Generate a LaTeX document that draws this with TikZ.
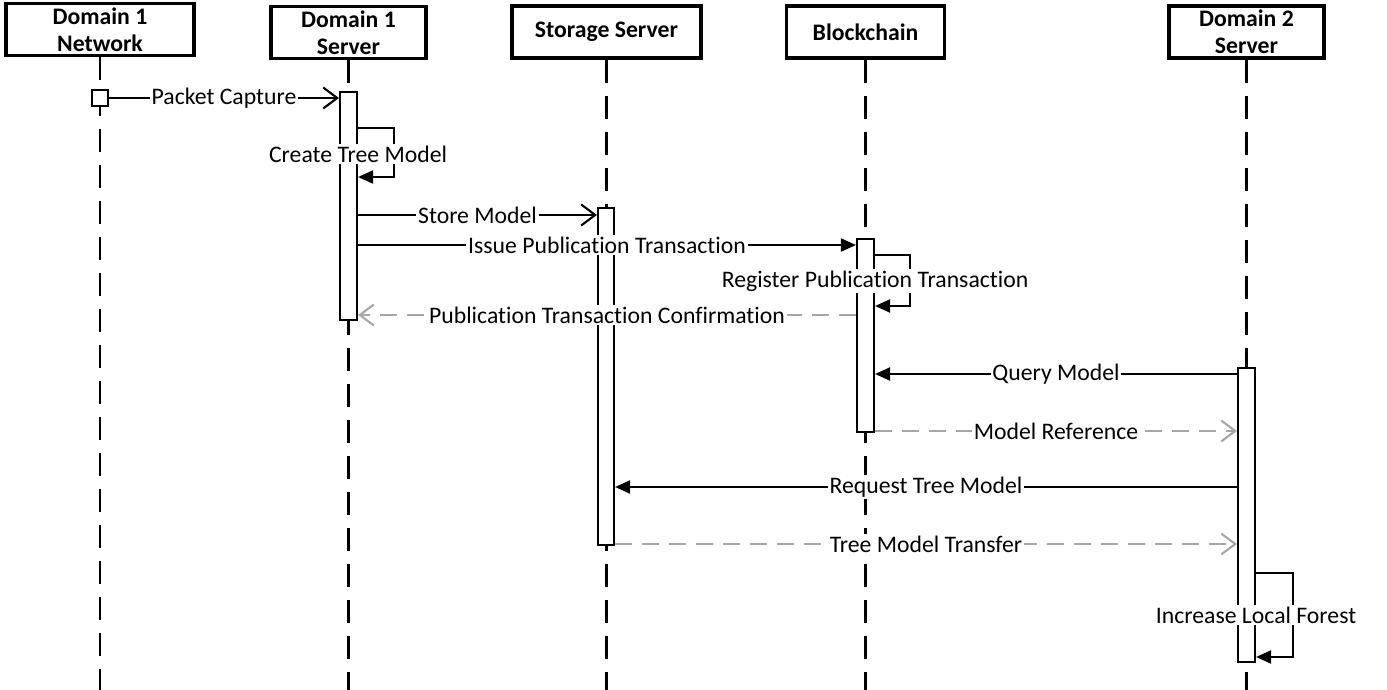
\documentclass[tikz,border=0pt]{standalone}
\usepackage{fontspec}
\setmainfont{Carlito}[Ligatures=NoCommon]
\usetikzlibrary{arrows.meta, fit}

\begin{document}
\begin{tikzpicture}[
    x=0.02cm, y=-0.02cm, % one unit per pixel, y running downwards
    headbox/.style={rectangle, draw, line width=1.9pt, align=center, inner sep=0pt, minimum height=1.04cm, font=\bfseries\fontsize{13.5}{15.5}\selectfont},
    lifeline/.style={line width=1.5pt, dash pattern=on 0.46cm off 0.26cm},
    actbar/.style={rectangle, draw, line width=1.2pt, fill=white, inner sep=0pt},
    msg/.style={line width=1.2pt, -{Triangle[length=0.3cm, width=0.26cm]}},
    openmsg/.style={line width=1.2pt, -{Straight Barb[length=0.28cm, width=0.42cm, line width=1.2pt]}},
    reply/.style={openmsg, gray!70, dash pattern=on 0.34cm off 0.2cm},
    lbl/.style={fill=white, text=black, inner sep=1pt, font=\fontsize{13.5}{16}\selectfont}
]
\useasboundingbox (0,0) rectangle (1387,690);
\coordinate (bottom) at (0,690);

% Participants
\node[headbox, minimum width=3.76cm] (net) at (100,29.5) {Domain 1\\Network};
\node[headbox, minimum width=3.1cm] (d1) at (348.5,32.5) {Domain 1\\Server};
\node[headbox, minimum width=3.78cm] (st) at (606.5,32) {Storage Server};
\node[headbox, minimum width=3.16cm] (bc) at (865.5,32) {Blockchain};
\node[headbox, minimum width=3.1cm] (d2) at (1246.5,32) {Domain 2\\Server};

% Lifelines
\foreach \p in {net, d1, st, bc, d2}
    \draw[lifeline] (\p.south) -- (\p.south |- bottom);

% Activation bars
\node[actbar, minimum size=0.32cm] (netsq) at (100,98) {};
\node[actbar, fit={(340,92) (357,320)}] (d1bar) {};
\node[actbar, fit={(598,208) (614,545)}] (stbar) {};
\node[actbar, fit={(857,239) (874,432)}] (bcbar) {};
\node[actbar, fit={(1238,368) (1255,662)}] (d2bar) {};

% Messages
\draw[openmsg] (netsq.east) -- node[lbl] (lcap) {Packet Capture} (netsq.east -| d1bar.west);

\draw[msg] (d1bar.east |- 0,128) -- ++(36,0) -- ++(0,49) -- (d1bar.east |- 0,177);
\node[lbl] (ltree) at (d1bar.east |- 0,154) {Create Tree Model};

\draw[openmsg] (d1bar.east |- 0,215) -- node[lbl] (lstore) {Store Model} (stbar.west |- 0,215);
\draw[msg] (d1bar.east |- 0,245) -- node[lbl] (lissue) {Issue Publication Transaction} (bcbar.west |- 0,245);

\draw[msg] (bcbar.east |- 0,255) -- ++(35,0) -- ++(0,51) -- (bcbar.east |- 0,306);
\node[lbl] (lreg) at (bcbar.east |- 0,281) {Register Publication Transaction};

\draw[reply] (bcbar.west |- 0,315) -- node[lbl] (lconf) {Publication Transaction Confirmation} (d1bar.east |- 0,315);

\draw[msg] (d2bar.west |- 0,374) -- node[lbl] (lquery) {Query Model} (bcbar.east |- 0,374);
\draw[reply] (bcbar.east |- 0,431) -- node[lbl] (lref) {Model Reference} (d2bar.west |- 0,431);
\draw[msg] (d2bar.west |- 0,487) -- node[lbl] (lreq) {Request Tree Model} (stbar.east |- 0,487);
\draw[reply] (stbar.east |- 0,544) -- node[lbl] (ltrans) {Tree Model Transfer} (d2bar.west |- 0,544);

\draw[msg] (d2bar.east |- 0,573) -- ++(37,0) -- ++(0,84) -- (d2bar.east |- 0,657);
\node[lbl] (lforest) at (d2bar.east |- 0,615) {Increase Local Forest};

\end{tikzpicture}
\end{document}
